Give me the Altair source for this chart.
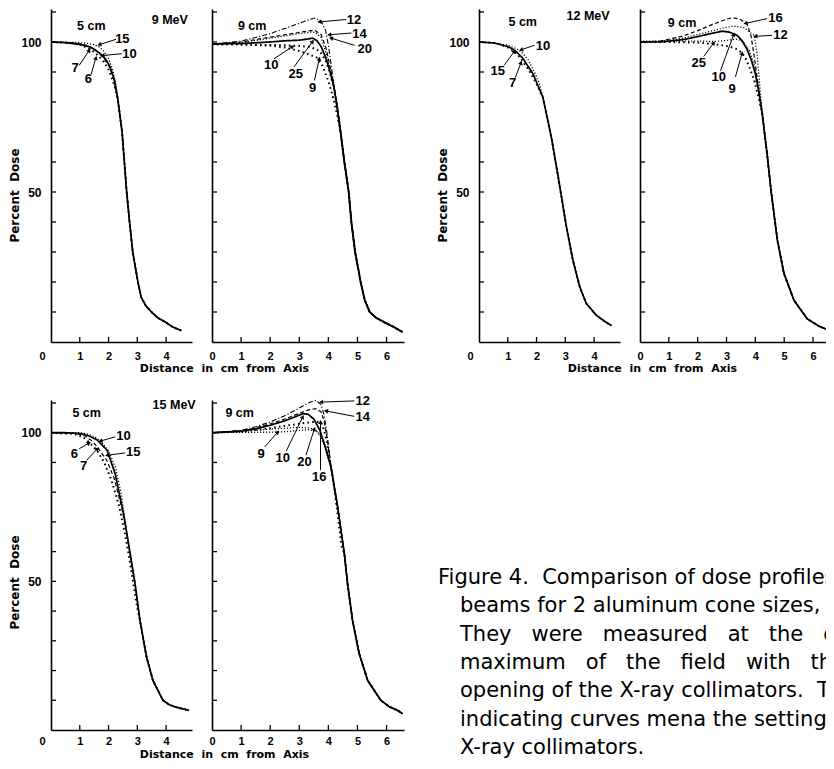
import math
import re
import altair as alt
import pandas as pd

# ---------------- values ----------------
# Panel A: 9 MeV, 5 cm cone
a_tail_x = [2.32, 2.47, 2.55, 2.63, 2.73, 2.84, 3.02, 3.13, 3.30, 3.49, 3.72, 4.00, 4.23, 4.53]
a_tail_y = [81, 70, 60, 50, 40, 30, 20, 15, 12, 10, 8, 6.5, 5, 3.8]
a_10_x = [0, 0.5, 1.0, 1.3, 1.5, 1.7, 1.9, 2.05, 2.2]
a_10_y = [100, 99.8, 99.2, 98.5, 97.6, 96.2, 94.3, 91.8, 87.5]
a_15_x = [0, 0.8, 1.2, 1.5, 1.68, 1.85, 2.0, 2.15, 2.25]
a_15_y = [100, 99.9, 99.6, 99.1, 98.3, 96.8, 94.5, 90.5, 86]
a_7_x = [0, 0.8, 1.05, 1.27, 1.45, 1.65, 1.85, 2.0, 2.15, 2.25]
a_7_y = [100, 99.6, 99, 98, 97, 95.4, 93.2, 90.8, 87, 84]
a_6_x = [0, 0.8, 1.2, 1.4, 1.62, 1.8, 2.0, 2.15, 2.25]
a_6_y = [100, 99.7, 99, 98.2, 96.7, 95, 92.3, 88.5, 84.5]

# Panel B: 9 MeV, 9 cm cone
b_tail_x = [4.42, 4.55, 4.70, 4.79, 4.92, 5.11, 5.25, 5.42, 5.65, 5.94, 6.25, 6.55]
b_tail_y = [70, 60, 50, 40, 30, 20, 14, 10, 8, 6.5, 5, 3.3]
b_25_x = [0, 1, 2, 2.5, 3, 3.3, 3.45, 3.6, 3.75, 3.9, 4.0, 4.1, 4.2, 4.3]
b_25_y = [99.3, 99.5, 100, 100.4, 100.6, 101, 101.3, 100.5, 98.5, 95, 92, 88.5, 84.5, 78.5]
b_20_x = [0, 1, 1.5, 2, 2.5, 3, 3.4, 3.55, 3.75, 3.9, 4.0, 4.1, 4.2, 4.3]
b_20_y = [99.3, 99.8, 100.5, 101.3, 102, 102.8, 103.3, 103.2, 101.5, 97, 93, 89, 84.5, 78.5]
b_14_x = [0, 1, 1.5, 2, 2.5, 3, 3.4, 3.55, 3.75, 3.92, 4.02, 4.12, 4.22, 4.32]
b_14_y = [99.3, 100, 100.8, 101.6, 102.4, 103.2, 103.8, 103.8, 102.5, 98, 93.5, 89, 84, 78]
b_12_x = [0, 1, 1.5, 2, 2.5, 3, 3.35, 3.55, 3.75, 3.9, 4.0, 4.1, 4.2, 4.3]
b_12_y = [99.3, 100.3, 101.5, 102.8, 104.5, 106.2, 107.5, 108, 107, 104, 99, 92, 85, 78.5]
b_10_x = [0, 1, 2, 2.5, 3, 3.4, 3.7, 3.9, 4.05, 4.2, 4.3]
b_10_y = [99.3, 99.2, 99, 98.9, 98.7, 98.3, 97, 94, 90, 84, 78.5]
b_9_x = [0, 1, 2, 2.5, 3, 3.3, 3.6, 3.8, 4.0, 4.15, 4.3]
b_9_y = [99.3, 99.2, 98.8, 98.2, 97, 96, 94.8, 92, 87, 82, 76]

# Panel C: 12 MeV, 5 cm cone
c_tail_x = [2.22, 2.52, 2.80, 3.03, 3.26, 3.50, 3.73, 4.08, 4.35, 4.60]
c_tail_y = [81.6, 68, 52.3, 38.8, 27.4, 18.4, 12.8, 8.9, 7.0, 5.5]
c_7_x = [0, 0.5, 1.0, 1.25, 1.52, 1.87]
c_7_y = [100, 99.7, 98.5, 97.2, 94.6, 89.5]
c_10_x = [0, 0.5, 1.0, 1.3, 1.46, 1.7, 1.95, 2.12]
c_10_y = [100, 99.8, 98.9, 97.8, 96.8, 94.2, 89.5, 85.5]
c_15_x = [0, 0.6, 1.0, 1.23, 1.45, 1.75, 2.0]
c_15_y = [100, 99.6, 98.2, 96.9, 94.6, 90.4, 86]

# Panel D: 12 MeV, 9 cm cone
d_tail_x = [4.24, 4.41, 4.55, 4.76, 4.99, 5.34, 5.80, 6.20, 6.60]
d_tail_y = [76, 62.4, 50, 34.2, 22.9, 13.9, 7.7, 5.3, 3.7]
d_10_x = [0, 0.7, 1.5, 2.0, 2.5, 2.85, 3.1, 3.37, 3.55, 3.72, 3.86, 4.0, 4.12]
d_10_y = [100, 100, 100.8, 101.8, 102.9, 103.6, 103.3, 102.2, 100.3, 97.4, 94, 89.5, 83.5]
d_16_x = [0, 0.7, 1.5, 2.0, 2.5, 3.0, 3.2, 3.45, 3.72, 3.85, 3.95, 4.05, 4.15]
d_16_y = [100, 100.3, 102, 103.8, 105.8, 107.6, 108.1, 107.7, 105.9, 102, 96, 89, 82]
d_12_x = [0, 0.7, 1.5, 2.0, 2.5, 3.0, 3.25, 3.6, 3.96, 4.06, 4.15]
d_12_y = [100, 100.2, 101.3, 102.5, 103.7, 104.9, 105.3, 104.8, 102.2, 96, 86]
d_25_x = [0, 1, 2, 2.56, 3, 3.2, 3.4, 3.6, 3.8, 4.0, 4.12]
d_25_y = [100.3, 100.3, 100.3, 100.2, 100.5, 100.8, 100.9, 99.8, 97, 91, 84]
d_9_x = [0, 1, 2, 2.5, 2.8, 3.1, 3.37, 3.54, 3.66, 3.8, 3.96, 4.1]
d_9_y = [100, 100, 99.8, 99.4, 99, 98.5, 97.6, 96.3, 94.6, 91.5, 87.3, 82]

# Panel E: 15 MeV, 5 cm cone
e_tail_x = [2.62, 2.75, 2.92, 3.09, 3.32, 3.54, 3.89, 4.11, 4.34, 4.80]
e_tail_y = [67, 59.4, 49.3, 36.9, 24.6, 16.7, 10, 8.5, 7.7, 6.6]
e_15_x = [0, 0.5, 1.04, 1.3, 1.6, 1.95, 2.23, 2.52]
e_15_y = [100, 100, 99.7, 99, 97.6, 94.1, 86.2, 72.8]
e_10_x = [0, 1.0, 1.3, 1.55, 1.72, 2.0, 2.25, 2.45]
e_10_y = [100, 100, 99.5, 98.4, 97.2, 94, 88, 79]
e_7_x = [0, 0.9, 1.2, 1.45, 1.61, 1.95, 2.2, 2.45]
e_7_y = [100, 99.7, 98.8, 97, 95.2, 90.5, 84.5, 75]
e_6_x = [0, 0.8, 1.1, 1.32, 1.6, 1.85, 2.1, 2.35, 2.55, 2.72, 2.88, 3.0]
e_6_y = [100, 99.6, 98.6, 96.8, 94, 90, 84, 76, 67, 58, 48, 41]

# Panel F: 15 MeV, 9 cm cone
f_tail_x = [4.09, 4.32, 4.55, 4.66, 4.83, 5.06, 5.35, 5.80, 6.10, 6.38, 6.55]
f_tail_y = [88.5, 75, 59.3, 49.2, 36.9, 25.7, 16.7, 10, 7.8, 6.6, 5.5]
f_10_x = [0, 1, 1.5, 2, 2.5, 2.9, 3.12, 3.3, 3.5, 3.7, 3.9, 4.0]
f_10_y = [100, 100.5, 101.3, 102.5, 104, 105.5, 106.4, 106.2, 104.6, 101, 95, 91.5]
f_12_x = [0, 1, 1.5, 2, 2.5, 3, 3.3, 3.57, 3.75, 3.85, 3.95, 4.05]
f_12_y = [100, 100.8, 102, 103.6, 105.7, 108.3, 110, 110.9, 109.5, 106, 100, 92]
f_14_x = [0, 1, 1.5, 2, 2.5, 3, 3.3, 3.57, 3.75, 3.85, 3.95, 4.05]
f_14_y = [100, 100.6, 101.6, 103, 104.6, 106.5, 107.6, 108.1, 107, 104, 98.5, 91.5]
f_9_x = [0, 1, 2, 2.26, 2.6, 3, 3.3, 3.6, 3.8, 3.95]
f_9_y = [100, 100.1, 100.2, 100.2, 100.4, 100.8, 101, 100.5, 98, 94]
f_20_x = [0, 1, 2, 2.5, 3, 3.3, 3.52, 3.7, 3.85, 3.97]
f_20_y = [100, 100.4, 101.2, 101.5, 101.8, 101.6, 101.3, 99.5, 96, 92]
f_16_x = [0, 1, 2, 2.5, 3, 3.3, 3.55, 3.73, 3.85, 3.95, 4.05, 4.15, 4.25, 4.35, 4.45]
f_16_y = [100, 100.4, 101.5, 102.3, 103, 103.4, 103.7, 103.6, 101, 97, 91, 85, 78, 70, 62]

# Arrow annotations (curve numbers = collimator settings)
a_lab = ["15", "10", "7", "6"]
a_lx = [2.48, 2.73, 0.84, 1.30]; a_ly = [100.9, 96.1, 91.3, 87.8]
a_x1 = [2.26, 2.47, 0.98, 1.39]; a_y1 = [100.9, 96.1, 92.2, 89.1]
a_x2 = [1.68, 1.79, 1.33, 1.56]; a_y2 = [99.1, 95.5, 97.2, 94.7]

b_lab = ["12", "14", "20", "10", "25", "9"]
b_lx = [4.88, 5.07, 5.25, 2.04, 2.88, 3.46]; b_ly = [107.5, 102.8, 97.8, 92.4, 89.4, 84.7]
b_x1 = [4.61, 4.79, 4.90, 2.13, 2.82, 3.52]; b_y1 = [107.5, 103.0, 98.9, 94.4, 91.7, 87.2]
b_x2 = [3.69, 4.03, 4.09, 2.77, 3.46, 3.69]; b_y2 = [106.7, 102.4, 101.3, 98.5, 100.2, 94.4]

c_lab = ["10", "15", "7"]
c_lx = [2.22, 0.65, 1.17]; c_ly = [98.8, 90.4, 86.4]
c_x1 = [1.93, 0.88, 1.26]; c_y1 = [98.9, 92.3, 88.1]
c_x2 = [1.46, 1.23, 1.46]; c_y2 = [97.4, 96.9, 93.1]

d_lab = ["16", "12", "25", "10", "9"]
d_lx = [4.70, 4.87, 2.04, 2.73, 3.19]; d_ly = [108.1, 102.5, 93.1, 88.4, 84.4]
d_x1 = [4.41, 4.58, 2.21, 2.79, 3.31]; d_y1 = [107.8, 102.2, 95.2, 90.4, 88.4]
d_x2 = [3.66, 4.00, 2.56, 3.25, 3.54]; d_y2 = [106.2, 101.9, 99.7, 102.5, 96.3]

e_lab = ["10", "15", "6", "7"]
e_lx = [2.52, 2.86, 0.81, 1.13]; e_ly = [98.8, 93.5, 92.7, 88.7]
e_x1 = [2.23, 2.57, 0.98, 1.24]; e_y1 = [98.6, 93.2, 94.6, 90.7]
e_x2 = [1.72, 1.95, 1.32, 1.61]; e_y2 = [97.2, 92.4, 96.5, 94.6]

f_lab = ["12", "14", "9", "10", "20", "16"]
f_lx = [5.18, 5.18, 1.69, 2.43, 3.18, 3.69]; f_ly = [110.7, 105.3, 92.9, 91.6, 90.1, 85.1]
f_x1 = [4.89, 4.89, 1.81, 2.55, 3.23, 3.73]; f_y1 = [110.7, 105.5, 95.2, 93.8, 92.4, 87.4]
f_x2 = [3.75, 3.92, 2.26, 3.12, 3.52, 3.73]; f_y2 = [110.3, 107.3, 100.2, 105.3, 101.3, 103.6]

# Panel titles
a_notes = ["5 cm", "9 MeV"]; a_nx = [1.40, 4.13]; a_ny = [105.5, 107.2]
b_notes = ["9 cm"]; b_nx = [1.38]; b_ny = [105.5]
c_notes = ["5 cm", "12 MeV"]; c_nx = [1.52, 3.79]; c_ny = [106.7, 108.7]
d_notes = ["9 cm"]; d_nx = [1.46]; d_ny = [106.4]
e_notes = ["5 cm", "15 MeV"]; e_nx = [1.24, 4.28]; e_ny = [106.6, 109.2]
f_notes = ["9 cm"]; f_nx = [0.95]; f_ny = [106.6]

Y_TICKS = [10, 20, 30, 40, 50, 60, 70, 80, 90, 100, 110]
Y_LABELS = [50, 100]
X_TICKS_5 = [0, 1, 2, 3, 4]
X_TICKS_9 = [0, 1, 2, 3, 4, 5, 6]

caption_lines = [
    "Figure 4.  Comparison of dose profiles of electron",
    "beams for 2 aluminum cone sizes, 5 and 9 cm.",
    "They   were   measured   at   the   depth   of",
    "maximum   of   the   field   with   the   various",
    "opening of the X-ray collimators.  The numbers",
    "indicating curves mena the setting of the",
    "X-ray collimators.",
]

# ---------------- styling ----------------
STYLES = ["solid", "dot", "dash", "dashdot", "bigdot"]
DASHES = [[1, 0], [1.2, 1.8], [4, 2.5], [5, 2, 1.2, 2], [1.6, 3.2]]
WIDTHS = {"solid": 1.7, "dot": 1.2, "dash": 1.2, "dashdot": 1.1, "bigdot": 2.0}


def nb(s):
    return re.sub(r" {2,}", lambda m: " " + "\u00a0" * (len(m.group(0)) - 1), s)


def curves_df(series, tail_x, tail_y):
    rows = []
    for name, style, xs, ys in series:
        pts = list(zip(xs, ys))
        last = xs[-1]
        pts += [(x, y) for x, y in zip(tail_x, tail_y) if x > last]
        for i, (x, y) in enumerate(pts):
            rows.append(dict(series=name, style=style, w=WIDTHS[style], i=i, x=x, y=y))
    return pd.DataFrame(rows)


def panel(cdf, lab, lx, ly, x1, y1, x2, y2, notes, nx, ny, xmax, width, height, left, row):
    xs = alt.Scale(domain=[0, xmax], nice=False, zero=False)
    ys = alt.Scale(domain=[0, 111], nice=False, zero=False)
    ux = width / xmax
    uy = height / 111.0
    lpad = 8 if row == 0 else 5
    if left:
        yaxis = alt.Axis(values=Y_LABELS, labelFontSize=12, labelPadding=10,
                         title="Percent\u00a0\u00a0Dose", titleFontSize=12, titleAngle=270,
                         titleBaseline="bottom", titleAlign="center",
                         titleX=-30, titleY=186 if row == 0 else 182)
        xaxis = alt.Axis(values=X_TICKS_5, labelFontSize=11, labelPadding=lpad, labelFlush=False,
                         labelOverlap=False,
                         labelOffset={"condition": {"test": "datum.value === 0", "value": -9}, "value": 0},
                         title=None)
    else:
        yaxis = alt.Axis(labels=False, title=None)
        xaxis = alt.Axis(values=X_TICKS_9, labelFontSize=11, labelPadding=lpad, labelFlush=False,
                         labelOverlap=False,
                         title=nb("Distance  in  cm  from  Axis"), titleFontSize=11,
                         titleX=12, titleY=26.5 if row == 0 else 24.5,
                         titleBaseline="middle", titleAlign="center")

    def X(f):
        return alt.X(f, scale=xs, axis=xaxis)

    def Y(f):
        return alt.Y(f, scale=ys, axis=yaxis)

    lines = alt.Chart(cdf).mark_line(color="black").encode(
        x=X("x:Q"), y=Y("y:Q"),
        detail="series:N",
        order="i:Q",
        strokeDash=alt.StrokeDash("style:N", scale=alt.Scale(domain=STYLES, range=DASHES), legend=None),
        strokeWidth=alt.StrokeWidth("w:Q", scale=None),
    )
    yt = alt.Chart(pd.DataFrame({"y": Y_TICKS})).mark_rule(color="black", strokeWidth=1.3).encode(
        y=Y("y:Q"), x=alt.value(0), x2=alt.value(5))
    xt_vals = [t for t in (X_TICKS_5 if left else X_TICKS_9) if 0 < t < xmax]
    xt = alt.Chart(pd.DataFrame({"x": xt_vals})).mark_rule(color="black", strokeWidth=1.3).encode(
        x=X("x:Q"), y=alt.value(height), y2=alt.value(height - 5))

    ang = []
    for a, b, c, d in zip(x1, y1, x2, y2):
        dx = (c - a) * ux
        dy = -(d - b) * uy
        ang.append(math.degrees(math.atan2(dx, -dy)) % 360)
    adf = pd.DataFrame({"label": lab, "lx": lx, "ly": ly, "x1": x1, "y1": y1,
                        "x2": x2, "y2": y2, "ang": ang})
    arrows = alt.Chart(adf).mark_rule(color="black", strokeWidth=1).encode(
        x=X("x1:Q"), y=Y("y1:Q"), x2="x2:Q", y2="y2:Q")
    heads = alt.Chart(adf).mark_point(shape="triangle-up", filled=True, size=22, color="black",
                                      opacity=1).encode(
        x=X("x2:Q"), y=Y("y2:Q"), angle=alt.Angle("ang:Q", scale=None))
    labels = alt.Chart(adf).mark_text(font="Liberation Sans", fontWeight="bold", fontSize=13,
                                      color="black").encode(
        x=X("lx:Q"), y=Y("ly:Q"), text="label:N")
    ndf = pd.DataFrame({"note": notes, "nx": nx, "ny": ny})
    ntext = alt.Chart(ndf).mark_text(font="Liberation Sans", fontWeight="bold", fontSize=12.5,
                                     color="black").encode(
        x=X("nx:Q"), y=Y("ny:Q"), text="note:N")
    return alt.layer(lines, yt, xt, arrows, heads, labels, ntext).properties(width=width, height=height)


pA = panel(curves_df([("10", "solid", a_10_x, a_10_y), ("15", "dot", a_15_x, a_15_y),
                      ("7", "bigdot", a_7_x, a_7_y), ("6", "dash", a_6_x, a_6_y)], a_tail_x, a_tail_y),
           a_lab, a_lx, a_ly, a_x1, a_y1, a_x2, a_y2, a_notes, a_nx, a_ny, 4.9, 141, 333, True, 0)
pB = panel(curves_df([("25", "solid", b_25_x, b_25_y), ("20", "dot", b_20_x, b_20_y),
                      ("14", "dash", b_14_x, b_14_y), ("12", "dashdot", b_12_x, b_12_y),
                      ("10", "bigdot", b_10_x, b_10_y), ("9", "bigdot", b_9_x, b_9_y)], b_tail_x, b_tail_y),
           b_lab, b_lx, b_ly, b_x1, b_y1, b_x2, b_y2, b_notes, b_nx, b_ny, 6.6, 192, 333, False, 0)
pC = panel(curves_df([("7", "solid", c_7_x, c_7_y), ("10", "dot", c_10_x, c_10_y),
                      ("15", "bigdot", c_15_x, c_15_y)], c_tail_x, c_tail_y),
           c_lab, c_lx, c_ly, c_x1, c_y1, c_x2, c_y2, c_notes, c_nx, c_ny, 4.9, 141, 333, True, 0)
pD = panel(curves_df([("10", "solid", d_10_x, d_10_y), ("16", "dash", d_16_x, d_16_y),
                      ("12", "dot", d_12_x, d_12_y), ("25", "dot", d_25_x, d_25_y),
                      ("9", "bigdot", d_9_x, d_9_y)], d_tail_x, d_tail_y),
           d_lab, d_lx, d_ly, d_x1, d_y1, d_x2, d_y2, d_notes, d_nx, d_ny, 6.45, 186, 333, False, 0)
pE = panel(curves_df([("15", "solid", e_15_x, e_15_y), ("10", "dot", e_10_x, e_10_y),
                      ("7", "dash", e_7_x, e_7_y), ("6", "bigdot", e_6_x, e_6_y)], e_tail_x, e_tail_y),
           e_lab, e_lx, e_ly, e_x1, e_y1, e_x2, e_y2, e_notes, e_nx, e_ny, 4.9, 141, 330, True, 1)
pF = panel(curves_df([("10", "solid", f_10_x, f_10_y), ("12", "dashdot", f_12_x, f_12_y),
                      ("14", "dash", f_14_x, f_14_y), ("9", "dot", f_9_x, f_9_y),
                      ("20", "dot", f_20_x, f_20_y), ("16", "bigdot", f_16_x, f_16_y)], f_tail_x, f_tail_y),
           f_lab, f_lx, f_ly, f_x1, f_y1, f_x2, f_y2, f_notes, f_nx, f_ny, 6.6, 192, 330, False, 1)

spacer = alt.Chart(pd.DataFrame({"v": [0]})).mark_point(opacity=0, size=1).encode(
    x=alt.value(10), y=alt.value(10)).properties(width=35, height=333)

# caption: first line starts further left than the indented continuation lines;
# it runs off the right edge of the page as in the scanned figure
cap_first = pd.DataFrame({"line": [nb(caption_lines[0])], "row": [0]})
cap_rest = pd.DataFrame({"line": [nb(s) for s in caption_lines[1:]],
                         "row": list(range(1, len(caption_lines)))})
cap_y = alt.Scale(domain=[0, 6], range=[184, 354])
cap1 = alt.Chart(cap_first).mark_text(align="left", baseline="alphabetic", font="DejaVu Sans",
                                      fontSize=21, color="black").encode(
    x=alt.value(14), y=alt.Y("row:Q", scale=cap_y, axis=None), text="line:N")
cap2 = alt.Chart(cap_rest).mark_text(align="left", baseline="alphabetic", font="DejaVu Sans",
                                     fontSize=21, color="black").encode(
    x=alt.value(36), y=alt.Y("row:Q", scale=cap_y, axis=None), text="line:N")
caption = alt.layer(cap1, cap2).properties(width=35, height=330)

# fixed-size canvas (818 x 753) with the plot grid's origin placed by the padding
chart = alt.concat(pA, pB, spacer, pC, pD, pE, pF, caption, columns=5,
                   spacing={"row": 58, "column": 20}, bounds="flush").properties(
    autosize=alt.AutoSizeParams(type="none"),
    padding={"left": 43, "top": 1, "right": 775, "bottom": 752},
    background="white",
).configure_view(stroke=None).configure_axis(
    domainColor="black", domainWidth=1.6, labelColor="black", labelFont="Liberation Sans",
    labelFontWeight="bold", ticks=False, grid=False, titleColor="black",
    titleFont="DejaVu Sans", titleFontWeight="bold",
)

chart.save("out.html", embed_options={"renderer": "svg", "actions": False})
